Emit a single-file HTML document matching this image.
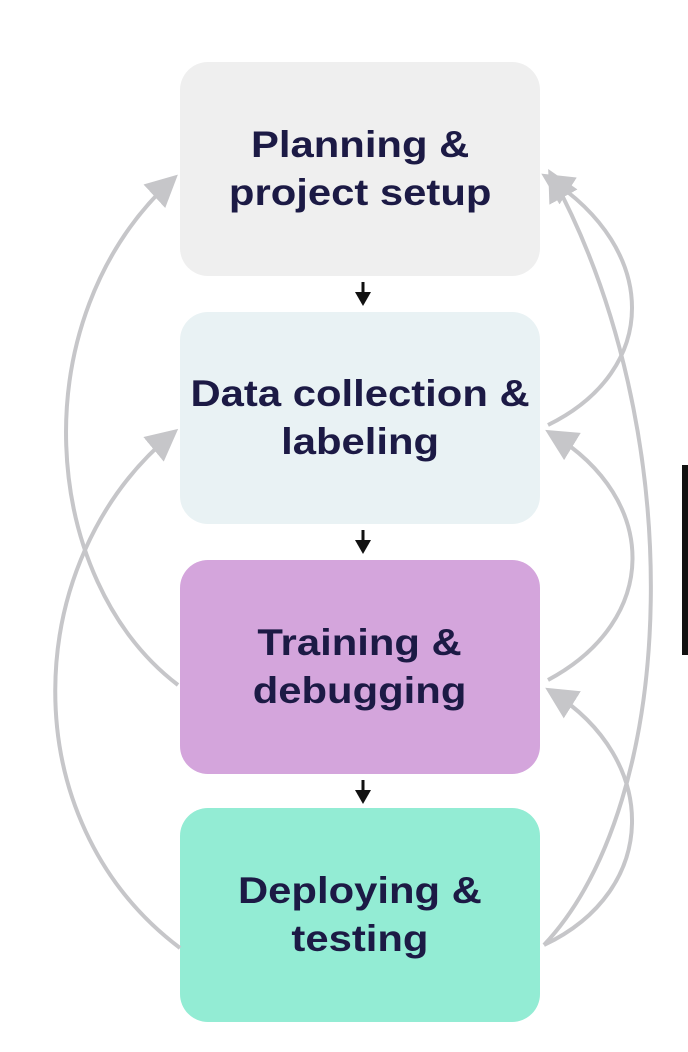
<!DOCTYPE html>
<html><head><style>
body{margin:0;width:688px;height:1052px;background:#fff;position:relative;overflow:hidden;font-family:"Liberation Sans",sans-serif}
.b{position:absolute;left:180px;width:360px;border-radius:28px;display:flex;align-items:center;justify-content:center;text-align:center;font-weight:bold;font-size:37px;line-height:48px;color:#1c1a45}
.b span{display:inline-block;transform:scaleX(1.13);white-space:nowrap}
</style></head><body>
<div class="b" style="top:62px;height:214px;background:#efefef"><span>Planning &amp;<br>project setup</span></div>
<div class="b" style="top:312px;height:212px;background:#e9f2f4"><span>Data collection &amp;<br>labeling</span></div>
<div class="b" style="top:560px;height:214px;background:#d4a5dc"><span>Training &amp;<br>debugging</span></div>
<div class="b" style="top:808px;height:214px;background:#93ecd4"><span>Deploying &amp;<br>testing</span></div>
<div style="position:absolute;left:682px;top:465px;width:6px;height:190px;background:#111"></div>
<svg width="688" height="1052" style="position:absolute;left:0;top:0">
<defs>
<marker id="g" markerWidth="8" markerHeight="8" refX="6" refY="4" orient="auto" markerUnits="strokeWidth"><path d="M0,0 L8,4 L0,8 z" fill="#c6c6c9"/></marker>
</defs>
<g stroke="#c6c6c9" stroke-width="4" fill="none">
<path d="M178,685 C40,580 20,320 172,180" marker-end="url(#g)"/>
<path d="M180,948 C10,820 20,560 172,434" marker-end="url(#g)"/>
<path d="M548,425 C660,370 660,250 548,178" marker-end="url(#g)"/>
<path d="M548,680 C660,620 660,500 552,434" marker-end="url(#g)"/>
<path d="M544,945 C660,890 660,760 552,692" marker-end="url(#g)"/>
<path d="M544,945 C680,800 690,430 552,176" marker-end="url(#g)"/>
</g>
<g fill="#111" stroke="#111" stroke-width="3">
<line x1="363" y1="282" x2="363" y2="296"/><path d="M355,292 L371,292 L363,306 z" stroke="none"/>
<line x1="363" y1="530" x2="363" y2="544"/><path d="M355,540 L371,540 L363,554 z" stroke="none"/>
<line x1="363" y1="780" x2="363" y2="794"/><path d="M355,790 L371,790 L363,804 z" stroke="none"/>
</g>
</svg>
</body></html>
